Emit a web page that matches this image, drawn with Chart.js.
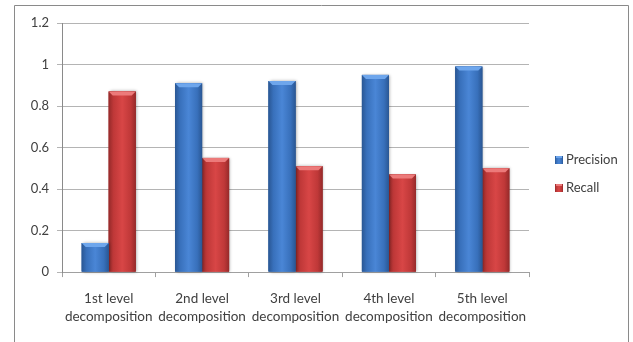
<!DOCTYPE html>
<html>
<head>
<meta charset="utf-8">
<script src="https://cdn.jsdelivr.net/npm/chart.js@4"></script>
<style>
  html, body { margin: 0; padding: 0; background: #fff; }
  #wrap { width: 633px; height: 342px; }
</style>
</head>
<body>
<div id="wrap"><canvas id="c" width="633" height="342"></canvas></div>
<script>
// Decomposition levels on the x axis (two-line labels)
const categories = [
  ['1st level', 'decomposition'],
  ['2nd level', 'decomposition'],
  ['3rd level', 'decomposition'],
  ['4th level', 'decomposition'],
  ['5th level', 'decomposition']
];
const seriesNames = ['Precision', 'Recall'];
const precision = [0.14, 0.91, 0.92, 0.95, 0.99];
const recall = [0.87, 0.55, 0.51, 0.47, 0.50];
const yTicks = [0, 0.2, 0.4, 0.6, 0.8, 1, 1.2];

// Shading for each series: edge, mid, centre, top bevel
const palette = [
  { edge: '#2a5794', mid: '#3870bb', centre: '#4a86d6', bevel: '#6ea6ec', solid: '#3b74c0' },
  { edge: '#962a2a', mid: '#bf3838', centre: '#d84646', bevel: '#ec7a7a', solid: '#c43c3c' }
];

const textColor = '#404040';
const fontFamily = 'Lato, "Liberation Sans", sans-serif';

function barGradient(ctx, left, right, p) {
  const g = ctx.createLinearGradient(left, 0, right, 0);
  g.addColorStop(0, p.edge);
  g.addColorStop(0.18, p.mid);
  g.addColorStop(0.5, p.centre);
  g.addColorStop(0.82, p.mid);
  g.addColorStop(1, p.edge);
  return g;
}

// Page frame, shaded bars and the legend on the right
const decor = {
  id: 'decor',
  beforeDraw(chart) {
    const ctx = chart.ctx;
    ctx.save();
    ctx.fillStyle = '#fff';
    ctx.fillRect(0, 0, chart.width, chart.height);
    ctx.strokeStyle = '#8a8a8a';
    ctx.lineWidth = 1;
    ctx.beginPath();
    ctx.moveTo(14.5, chart.height + 2);
    ctx.lineTo(14.5, 5.5);
    ctx.lineTo(628.5, 5.5);
    ctx.lineTo(628.5, chart.height + 2);
    ctx.stroke();
    ctx.restore();
  },
  afterDatasetDraw(chart, args) {
    const ctx = chart.ctx;
    const p = palette[args.index];
    const meta = args.meta;
    ctx.save();
    meta.data.forEach(el => {
      const { x, y, base, width } = el.getProps(['x', 'y', 'base', 'width'], true);
      const left = x - width / 2, right = x + width / 2;
      // soft shadow
      ctx.save();
      ctx.shadowColor = 'rgba(0,0,0,0.35)';
      ctx.shadowBlur = 3;
      ctx.shadowOffsetX = 1;
      ctx.fillStyle = barGradient(ctx, left, right, p);
      ctx.fillRect(left, y, width, base - y);
      ctx.restore();
      ctx.fillStyle = barGradient(ctx, left, right, p);
      ctx.fillRect(left, y, width, base - y);
      // top bevel
      const b = 4;
      ctx.fillStyle = p.bevel;
      ctx.beginPath();
      ctx.moveTo(left, y);
      ctx.lineTo(right, y);
      ctx.lineTo(right - b, y + b);
      ctx.lineTo(left + b, y + b);
      ctx.closePath();
      ctx.fill();
    });
    ctx.restore();
  },
  afterDraw(chart) {
    const ctx = chart.ctx;
    const area = chart.chartArea;
    ctx.save();
    ctx.font = '13px ' + fontFamily;
    ctx.textBaseline = 'middle';
    ctx.textAlign = 'left';
    chart.data.datasets.forEach((ds, i) => {
      const cy = chart.height / 2 - 11 + i * 28;
      const mx = area.right + 26;
      ctx.fillStyle = barGradient(ctx, mx, mx + 8, palette[i]);
      ctx.fillRect(mx, cy - 4, 8, 8);
      ctx.fillStyle = palette[i].bevel;
      ctx.fillRect(mx + 1, cy - 4, 6, 2);
      ctx.fillStyle = textColor;
      ctx.fillText(ds.label, mx + 11, cy);
    });
    ctx.restore();
  }
};

new Chart(document.getElementById('c'), {
  type: 'bar',
  data: {
    labels: categories,
    datasets: [
      { label: seriesNames[0], data: precision, backgroundColor: palette[0].solid },
      { label: seriesNames[1], data: recall, backgroundColor: palette[1].solid }
    ]
  },
  options: {
    responsive: false,
    animation: false,
    events: [],
    layout: { padding: { left: 0, right: 104, top: 23, bottom: 3 } },
    datasets: {
      bar: { categoryPercentage: 0.578, barPercentage: 1 }
    },
    plugins: {
      legend: { display: false },
      tooltip: { enabled: false }
    },
    scales: {
      x: {
        grid: {
          offset: true,
          drawOnChartArea: false,
          drawTicks: true,
          tickLength: 5,
          color: '#a0a0a0'
        },
        border: { color: '#a0a0a0' },
        ticks: {
          color: textColor,
          padding: 13,
          maxRotation: 0,
          autoSkip: false,
          font: { family: fontFamily, size: 13.5, lineHeight: 1.33 }
        }
      },
      y: {
        min: 0,
        max: 1.2,
        afterBuildTicks(scale) {
          scale.ticks = yTicks.map(v => ({ value: v }));
        },
        afterFit(scale) { scale.width = 62; },
        grid: {
          color: '#b4b4b4',
          tickLength: 5,
          drawTicks: true
        },
        border: { color: '#8a8a8a' },
        ticks: {
          color: textColor,
          padding: 8,
          font: { family: fontFamily, size: 13 },
          callback: v => String(v)
        }
      }
    }
  },
  plugins: [decor]
});
</script>
</body>
</html>
